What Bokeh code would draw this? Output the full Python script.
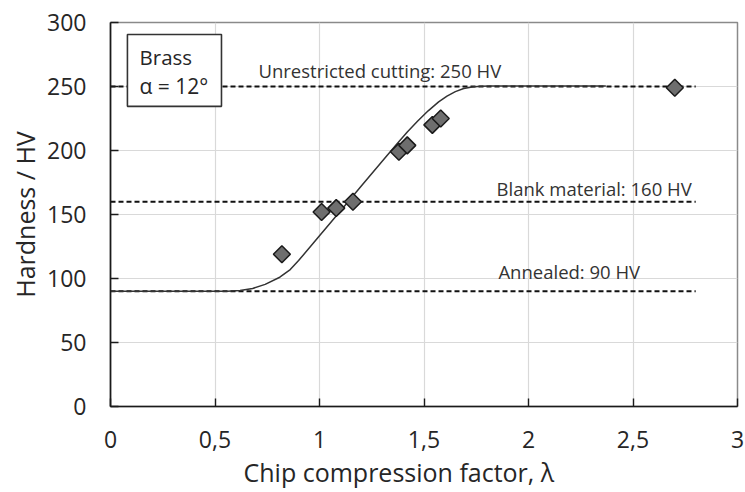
from bokeh.plotting import figure
from bokeh.models import Range1d, Title, Label, BoxAnnotation, FixedTicker, CustomJSTickFormatter
from bokeh.embed import file_html
from bokeh.resources import INLINE
import numpy as np

# measured data points (chip compression factor, hardness)
lam_pts = [0.82, 1.01, 1.08, 1.16, 1.38, 1.42, 1.54, 1.58, 2.70]
hv_pts = [119, 152, 155, 160, 199, 204, 220, 225, 249]

# model curve
lam_curve = [0.0, 0.56, 0.62, 0.68, 0.74, 0.81, 0.86, 0.90, 1.0, 1.1, 1.2, 1.3, 1.37,
             1.42, 1.47, 1.52, 1.57, 1.61, 1.65, 1.69, 1.73, 1.77, 1.82, 2.37]
hv_curve = [90, 90, 90.6, 92.2, 95.4, 101, 107, 114, 133.4, 152.8, 172.2, 191.6, 205,
            214.5, 223, 231, 238, 242.5, 246, 248.4, 249.6, 250.2, 250.4, 250.4]

# reference levels
ref_names = ["Annealed: 90 HV", "Blank material: 160 HV", "Unrestricted cutting: 250 HV"]
ref_values = [90, 160, 250]
ref_x_end = 2.8

x_ticks = [0, 0.5, 1, 1.5, 2, 2.5, 3]
y_ticks = [0, 50, 100, 150, 200, 250, 300]

FONT = "Open Sans"

p = figure(width=745, height=492, output_backend="svg", toolbar_location=None,
           x_range=Range1d(0, 3), y_range=Range1d(0, 300),
           min_border_left=110, min_border_right=8, min_border_top=22, min_border_bottom=86)
p.background_fill_color = "white"
p.border_fill_color = "white"
p.outline_line_color = "#8a8a8a"
p.outline_line_width = 1.5

for ax in (p.xaxis[0], p.yaxis[0]):
    ax.axis_line_color = "#1a1a1a"
    ax.axis_line_width = 1.6
    ax.major_tick_in = 8
    ax.major_tick_out = 0
    ax.major_tick_line_color = "#1a1a1a"
    ax.major_tick_line_width = 1.4
    ax.minor_tick_line_color = None
    ax.major_label_text_font = FONT
    ax.major_label_text_font_size = "23px"
    ax.major_label_text_color = "#262626"

p.xaxis.ticker = FixedTicker(ticks=x_ticks)
p.yaxis.ticker = FixedTicker(ticks=y_ticks)
p.xaxis.formatter = CustomJSTickFormatter(code="return String(tick).replace('.', ',');")
p.xaxis.major_label_standoff = 24
p.yaxis.major_label_standoff = 24

p.yaxis.axis_label = "Hardness / HV"
p.yaxis.axis_label_text_font = FONT
p.yaxis.axis_label_text_font_size = "25px"
p.yaxis.axis_label_text_font_style = "normal"
p.yaxis.axis_label_text_color = "#262626"
p.yaxis.axis_label_standoff = 2

xt = Title(text="Chip compression factor, \u03bb", align="left", offset=133,
           text_font=FONT, text_font_size="25px", text_font_style="normal",
           text_color="#262626", standoff=4)
p.add_layout(xt, "below")

p.xgrid.grid_line_color = "#d9d9d9"
p.ygrid.grid_line_color = "#d9d9d9"
p.xgrid.grid_line_width = 1.2
p.ygrid.grid_line_width = 1.2

# reference dashed lines
for v in ref_values:
    p.line([0, ref_x_end], [v, v], line_color="#111111", line_width=2, line_dash="5 3")

# model curve
p.line(lam_curve, hv_curve, line_color="#333333", line_width=1.5)

# measured points
p.scatter(lam_pts, hv_pts, marker="square", angle=np.pi / 4, size=12,
          fill_color="#6e6e6e", line_color="#1a1a1a", line_width=1.5)

# reference labels
label_pos = [(1.856, 105.5), (1.847, 170.3), (0.708, 262.5)]
for name, (lx, ly) in zip(ref_names, label_pos):
    p.add_layout(Label(x=lx, y=ly, text=name, text_font=FONT, text_font_size="18.5px",
                       text_color="#333333", text_baseline="alphabetic"))

# info box
p.add_layout(BoxAnnotation(left=0.081, right=0.531, bottom=234.5, top=290.6,
                           fill_color="white", fill_alpha=1.0,
                           line_color="#333333", line_alpha=1.0, line_width=1.6))
p.add_layout(Label(x=0.139, y=273.2, text="Brass", text_font=FONT, text_font_size="20.5px",
                   text_color="#262626", text_baseline="alphabetic"))
p.add_layout(Label(x=0.139, y=250.7, text="\u03b1 = 12\u00b0", text_font=FONT, text_font_size="21px",
                   text_color="#262626", text_baseline="alphabetic"))

open("out.html", "w").write(file_html(p, INLINE))
